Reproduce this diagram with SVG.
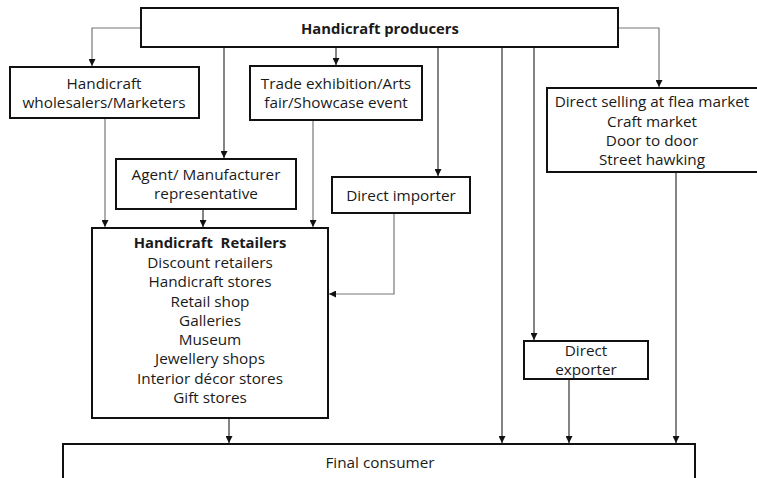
<svg xmlns="http://www.w3.org/2000/svg" width="757" height="478" viewBox="0 0 757 478">
  <style>
    .box { fill: #ffffff; stroke: #111111; stroke-width: 2; }
    .txt { font-family: "Open Sans", "Noto Sans", sans-serif; font-size: 15.3px; fill: #1a1a1a; text-anchor: middle; }
    .bold { font-weight: bold; font-size: 14.8px; }
    .wire { fill: none; stroke: #333333; stroke-width: 1.2; }
    .wire.light { stroke: #777777; }
  </style>
  <defs>
    <marker id="arrow" viewBox="0 0 10 10" refX="10" refY="5" markerWidth="7" markerHeight="7" markerUnits="userSpaceOnUse" orient="auto">
      <path d="M0,0 L10,5 L0,10 z" fill="#111111"/>
    </marker>
  </defs>
  <rect width="757" height="478" fill="#ffffff"/>

  <g id="connectors">
    <!-- producers to wholesalers -->
    <path class="wire light" d="M141,28 H92 V66" marker-end="url(#arrow)"/>
    <!-- producers to agent -->
    <path class="wire" d="M224,47 V158" marker-end="url(#arrow)"/>
    <!-- producers to trade exhibition -->
    <path class="wire" d="M336,47 V65" marker-end="url(#arrow)"/>
    <!-- producers to direct importer -->
    <path class="wire" d="M438,47 V176" marker-end="url(#arrow)"/>
    <!-- producers straight to final consumer -->
    <path class="wire" d="M502,47 V443" marker-end="url(#arrow)"/>
    <!-- producers to direct exporter -->
    <path class="wire" d="M534,47 V340" marker-end="url(#arrow)"/>
    <!-- producers to direct selling -->
    <path class="wire light" d="M618,28 H659 V87" marker-end="url(#arrow)"/>
    <!-- wholesalers to retailers -->
    <path class="wire light" d="M105,118 V227" marker-end="url(#arrow)"/>
    <!-- agent to retailers -->
    <path class="wire" d="M203,209 V227" marker-end="url(#arrow)"/>
    <!-- trade exhibition to retailers -->
    <path class="wire light" d="M313,120 V227" marker-end="url(#arrow)"/>
    <!-- direct importer to retailers -->
    <path class="wire light" d="M394,213 V294 H329" marker-end="url(#arrow)"/>
    <!-- retailers to final consumer -->
    <path class="wire" d="M229,418 V443" marker-end="url(#arrow)"/>
    <!-- direct exporter to final consumer -->
    <path class="wire" d="M569,379 V443" marker-end="url(#arrow)"/>
    <!-- direct selling to final consumer -->
    <path class="wire" d="M676,172 V443" marker-end="url(#arrow)"/>
  </g>

  <g id="producers">
    <rect class="box" x="141" y="8" width="477" height="39"/>
    <text class="txt bold" x="380" y="34">Handicraft producers</text>
  </g>

  <g id="wholesalers">
    <rect class="box" x="10" y="67" width="189" height="51"/>
    <text class="txt" x="104" y="89">Handicraft</text>
    <text class="txt" x="104" y="108">wholesalers/Marketers</text>
  </g>

  <g id="trade-exhibition">
    <rect class="box" x="250" y="66" width="172" height="54"/>
    <text class="txt" x="336" y="89">Trade exhibition/Arts</text>
    <text class="txt" x="336" y="108">fair/Showcase event</text>
  </g>

  <g id="direct-selling">
    <rect class="box" x="547" y="88" width="215" height="84"/>
    <text class="txt" x="652" y="107">Direct selling at flea market</text>
    <text class="txt" x="652" y="127">Craft market</text>
    <text class="txt" x="652" y="146">Door to door</text>
    <text class="txt" x="652" y="165">Street hawking</text>
  </g>

  <g id="agent">
    <rect class="box" x="116" y="159" width="180" height="50"/>
    <text class="txt" x="206" y="180">Agent/ Manufacturer</text>
    <text class="txt" x="206" y="199">representative</text>
  </g>

  <g id="direct-importer">
    <rect class="box" x="332" y="177" width="138" height="36"/>
    <text class="txt" x="401" y="201">Direct importer</text>
  </g>

  <g id="retailers">
    <rect class="box" x="92" y="228" width="236" height="190"/>
    <text class="txt bold" x="210" y="248" xml:space="preserve">Handicraft  Retailers</text>
    <text class="txt" x="210" y="268">Discount retailers</text>
    <text class="txt" x="210" y="287">Handicraft stores</text>
    <text class="txt" x="210" y="307">Retail shop</text>
    <text class="txt" x="210" y="326">Galleries</text>
    <text class="txt" x="210" y="345">Museum</text>
    <text class="txt" x="210" y="364">Jewellery shops</text>
    <text class="txt" x="210" y="384">Interior décor stores</text>
    <text class="txt" x="210" y="403">Gift stores</text>
  </g>

  <g id="direct-exporter">
    <rect class="box" x="524" y="341" width="124" height="38"/>
    <text class="txt" x="586" y="356">Direct</text>
    <text class="txt" x="586" y="375">exporter</text>
  </g>

  <g id="final-consumer">
    <rect class="box" x="63" y="444" width="632" height="50"/>
    <text class="txt" x="380" y="468">Final consumer</text>
  </g>
</svg>
